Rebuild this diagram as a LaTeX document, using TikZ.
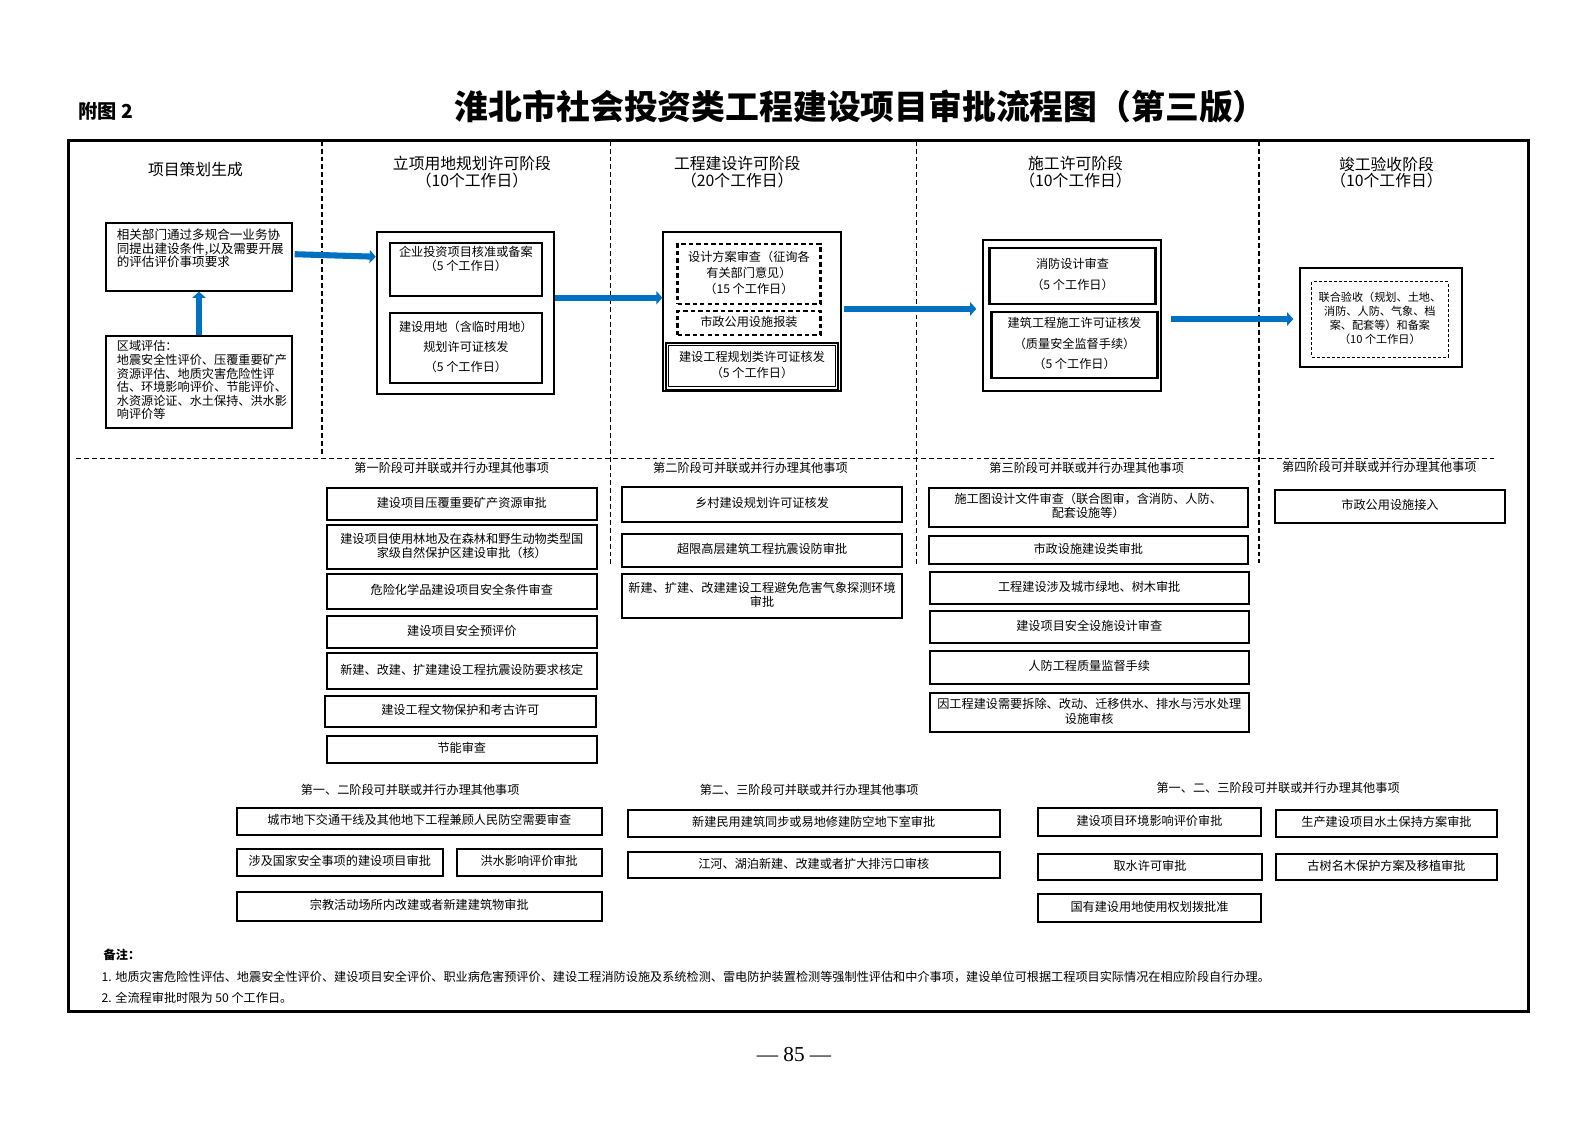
\documentclass[tikz,border=0pt]{standalone}
\usepackage{fontspec}
\setmainfont{Noto Sans CJK SC}
\newfontfamily\numfont{Liberation Serif}
\usetikzlibrary{arrows.meta,fit,calc}
\definecolor{flowblue}{RGB}{0,112,192}
\tikzset{
  box/.style={draw, line width=1pt, inner sep=0pt},
  dbox/.style={box, dash pattern=on 2.2pt off 1.5pt},
  boxtext/.style={align=center, inner sep=0pt, yshift=0.6pt, font=\fontsize{6}{7}\selectfont},
  txt/.style={label={[boxtext]center:{#1}}},
  flow/.style={draw=flowblue, line width=3pt,
               -{Triangle[length=3pt,width=6.5pt]}},
  sep/.style={line width=0.7pt, dash pattern=on 2.4pt off 1.5pt},
  stage/.style={align=center, inner sep=0pt, font=\fontsize{7.8}{8}\selectfont},
  group/.style={inner sep=0pt, font=\fontsize{6}{7}\selectfont},
  toplabel/.style={anchor=north, inner sep=2pt, align=center,
                   font=\fontsize{6}{7}\selectfont},
  note/.style={anchor=west, inner sep=0pt, font=\fontsize{6}{7}\selectfont},
}
\begin{document}
\begin{tikzpicture}[x=0.5pt, y=-0.5pt]
        \useasboundingbox (0,0) rectangle (1567,1108);
        \begin{scope}[overlay]
        \node (fig) [anchor=west, inner sep=0pt, font=\fontsize{9.5}{10}\selectfont\bfseries] at (77,110) {附图 2};
        \node (title) [font=\fontsize{16.7}{18}\selectfont\bfseries] at (850,105) {淮北市社会投资类工程建设项目审批流程图（第三版）};
        \draw [line width=1.5pt] (68,139) rectangle (1509,999);            %frame
        \draw [sep] (318,139) -- (318,450);                                %
        \draw [sep] (603,139) -- (603,560);                                %
        \draw [sep] (905,139) -- (905,558);                                %
        \draw [sep] (1243,139) -- (1243,556);                              %
        \draw [sep] (75,453) -- (1475,453);                                %
        % stage headers
        \node (s0) [stage] at (193,167) {项目策划生成};
        \node (s1) [stage] at (466,170) {立项用地规划许可阶段\\（10个工作日）};
        \node (s2) [stage] at (728,170) {工程建设许可阶段\\（20个工作日）};
        \node (s3) [stage] at (1062,170) {施工许可阶段\\（10个工作日）};
        \node (s4) [stage] at (1369,170) {竣工验收阶段\\（10个工作日）};
        % project planning
        \node (A) [box, fit={(105,220) (288,287)},
          label={[toplabel, anchor=north west, align=left, inner sep=0pt, font=\fontsize{6.2}{6.5}\selectfont,
          xshift=5.5pt, yshift=-3.5pt]north west:{相关部门通过多规合一业务协\\同提出建设条件,以及需要开展\\的评估评价事项要求}}] {};
        \node (B) [box, fit={(105,332) (288,423)},
          label={[toplabel, anchor=west, align=left, inner sep=0pt, font=\fontsize{6}{6.7}\selectfont,
          xshift=5.5pt, yshift=1pt]west:{区域评估：\\地震安全性评价、压覆重要矿产\\资源评估、地质灾害危险性评\\估、环境影响评价、节能评价、\\水资源论证、水土保持、洪水影\\响评价等}}] {};
        % stage 1
        \node (C) [box, fit={(372,229) (547,389)}] {};
        \node (C1) [box, line width=1.2pt, fit={(385,240) (535,292)},
          label={[toplabel]north:{企业投资项目核准或备案\\（5 个工作日）}}] {};
        \node (C2) [box, line width=1.2pt, fit={(385,309) (535,378)},
          label={[boxtext, font=\fontsize{6}{10}\selectfont]center:{建设用地（含临时用地）\\规划许可证核发\\（5 个工作日）}}] {};
        % stage 2
        \node (D) [box, fit={(655,229) (830,386)}] {};
        \node (D1) [dbox, line width=1.2pt, fit={(669,241) (810,300)},
          label={[boxtext, font=\fontsize{6}{8}\selectfont]center:{设计方案审查（征询各\\有关部门意见）\\（15 个工作日）}}] {};
        \node (D2) [dbox, line width=1.2pt, fit={(669,307) (810,331)}, txt={市政公用设施报装}] {};
        \node (D3) [box, line width=0.6pt, double, double distance=0.8pt, fit={(659,340) (826,383)},
          label={[boxtext, font=\fontsize{6}{7.5}\selectfont]center:{建设工程规划类许可证核发\\（5 个工作日）}}] {};
        % stage 3
        \node (E) [box, fit={(971,237) (1146,386)}] {};
        \node (E1) [box, line width=1.2pt, fit={(977,245) (1141,300)},
          label={[boxtext, font=\fontsize{6}{10.5}\selectfont]center:{消防设计审查\\（5 个工作日）}}] {};
        \node (E2) [box, line width=1.2pt, fit={(979,308) (1143,373)},
          label={[boxtext, font=\fontsize{6}{10}\selectfont]center:{建筑工程施工许可证核发\\（质量安全监督手续）\\（5 个工作日）}}] {};
        % stage 4
        \node (F) [box, fit={(1284,265) (1444,362)}] {};
        \node (F1) [dbox, line width=0.6pt, dash pattern=on 1.5pt off 1pt, fit={(1295,278) (1430,353)},
          label={[boxtext, font=\fontsize{5.5}{7}\selectfont]center:{联合验收（规划、土地、\\消防、人防、气象、档\\案、配套等）和备案\\（10 个工作日）}}] {};
        % flow
        \draw [flow] (B.north) -- (A.south);
        \draw [flow] ($(A.east)+(2,-2.5)$) -- (A.east -| C.west);
        \draw [flow] ($(C.east)+(0,-15)$) -- ($(C.east -| D.west)+(0,-15)$);
        \draw [flow] ($(D.east)+(2,-2.5)$) -- ($(D.east -| E.west)+(-6,-2.5)$);
        \draw [flow] ($(E.east)+(9,3.5)$) -- ($(E.east -| F.west)+(-6,3.5)$);
        % parallel items, stage 1
        \node (g1) [group] at (446,462) {第一阶段可并联或并行办理其他事项};
        \node (p11) [box, fit={(323,482) (589,513)}, txt={建设项目压覆重要矿产资源审批}] {};
        \node (p12) [box, fit={(323,518) (589,562)}, txt={建设项目使用林地及在森林和野生动物类型国\\家级自然保护区建设审批（核）}] {};
        \node (p13) [box, fit={(323,567) (589,601)}, txt={危险化学品建设项目安全条件审查}] {};
        \node (p14) [box, fit={(323,608) (589,640)}, txt={建设项目安全预评价}] {};
        \node (p15) [box, fit={(323,645) (589,680)}, txt={新建、改建、扩建建设工程抗震设防要求核定}] {};
        \node (p16) [box, fit={(321,687) (588,718)}, txt={建设工程文物保护和考古许可}] {};
        \node (p17) [box, fit={(323,727) (589,753)}, txt={节能审查}] {};
        % stage 2
        \node (g2) [group] at (741,462) {第二阶段可并联或并行办理其他事项};
        \node (p21) [box, fit={(614,481) (891,515)}, txt={乡村建设规划许可证核发}] {};
        \node (p22) [box, fit={(614,527) (891,560)}, txt={超限高层建筑工程抗震设防审批}] {};
        \node (p23) [box, fit={(614,567) (891,610)}, txt={新建、扩建、改建建设工程避免危害气象探测环境\\审批}] {};
        % stage 3
        \node (g3) [group] at (1073,462) {第三阶段可并联或并行办理其他事项};
        \node (p31) [box, fit={(917,482) (1232,520)}, txt={施工图设计文件审查（联合图审，含消防、人防、\\配套设施等）}] {};
        \node (p32) [box, fit={(917,529) (1232,557)}, txt={市政设施建设类审批}] {};
        \node (p33) [box, fit={(918,565) (1233,596)}, txt={工程建设涉及城市绿地、树木审批}] {};
        \node (p34) [box, fit={(918,603) (1233,635)}, txt={建设项目安全设施设计审查}] {};
        \node (p35) [box, fit={(918,643) (1233,675)}, txt={人防工程质量监督手续}] {};
        \node (p36) [box, fit={(918,684) (1233,723)}, txt={因工程建设需要拆除、改动、迁移供水、排水与污水处理\\设施审核}] {};
        % stage 4
        \node (g4) [group] at (1362,461) {第四阶段可并联或并行办理其他事项};
        \node (p41) [box, fit={(1259,484) (1486,516)}, txt={市政公用设施接入}] {};
        % stages 1-2
        \node (g12) [group] at (405,780) {第一、二阶段可并联或并行办理其他事项};
        \node (q1) [box, fit={(234,798) (594,824)}, txt={城市地下交通干线及其他地下工程兼顾人民防空需要审查}] {};
        \node (q2) [box, fit={(234,838) (437,865)}, txt={涉及国家安全事项的建设项目审批}] {};
        \node (q3) [box, fit={(451,838) (594,865)}, txt={洪水影响评价审批}] {};
        \node (q4) [box, fit={(234,881) (594,909)}, txt={宗教活动场所内改建或者新建建筑物审批}] {};
        % stages 2-3
        \node (g23) [group] at (799,780) {第二、三阶段可并联或并行办理其他事项};
        \node (r1) [box, fit={(620,800) (987,826)}, txt={新建民用建筑同步或易地修建防空地下室审批}] {};
        \node (r2) [box, fit={(620,841) (987,867)}, txt={江河、湖泊新建、改建或者扩大排污口审核}] {};
        % stages 1-3
        \node (g123) [group] at (1262,778) {第一、二、三阶段可并联或并行办理其他事项};
        \node (t1) [box, fit={(1025,798) (1245,825)}, txt={建设项目环境影响评价审批}] {};
        \node (t2) [box, fit={(1260,800) (1478,826)}, txt={生产建设项目水土保持方案审批}] {};
        \node (t3) [box, fit={(1025,843) (1246,869)}, txt={取水许可审批}] {};
        \node (t4) [box, fit={(1260,843) (1478,869)}, txt={古树名木保护方案及移植审批}] {};
        \node (t5) [box, fit={(1025,883) (1245,910)}, txt={国有建设用地使用权划拨批准}] {};
        % notes
        \node (n0) [note, font=\fontsize{6}{7}\selectfont\bfseries] at (102,943) {备注：};
        \node (n1) [note] at (100,965) {1. 地质灾害危险性评估、地震安全性评价、建设项目安全评价、职业病危害预评价、建设工程消防设施及系统检测、雷电防护装置检测等强制性评估和中介事项，建设单位可根据工程项目实际情况在相应阶段自行办理。};
        \node (n2) [note] at (100,985) {2. 全流程审批时限为 50 个工作日。};
        \node (pg) [font=\numfont\fontsize{10.5}{12}\selectfont] at (784,1041) {— 85 —};
        \end{scope}
\end{tikzpicture}
\end{document}
